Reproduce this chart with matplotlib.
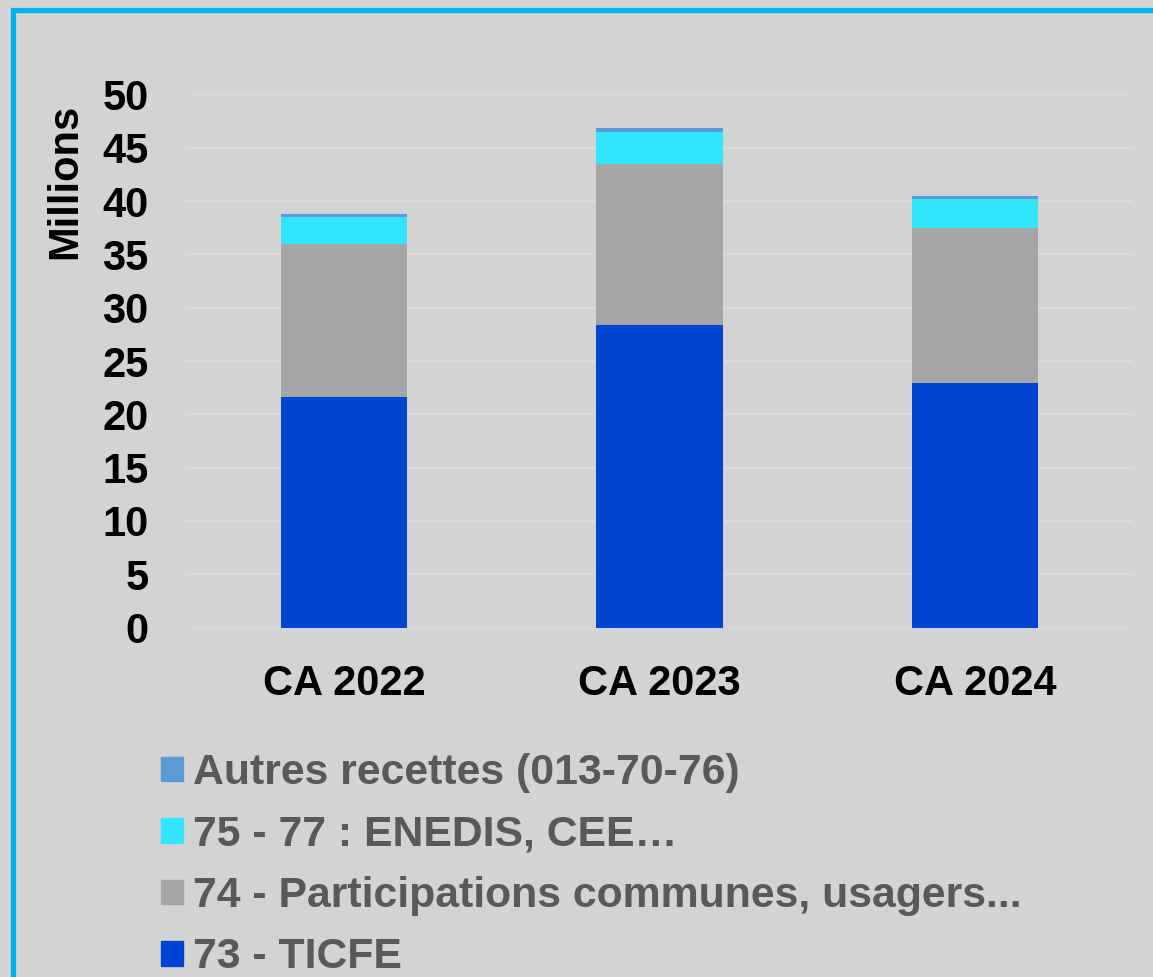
import matplotlib
matplotlib.use('Agg')
import matplotlib.pyplot as plt
import matplotlib.patches as mpatches
import numpy as np

plt.rcParams['font.family'] = ['Liberation Sans', 'DejaVu Sans']
plt.rcParams['font.weight'] = 'bold'

# data (millions)
categories = ['CA 2022', 'CA 2023', 'CA 2024']
ticfe = [21.6, 28.4, 22.95]
participations = [14.4, 15.1, 14.55]
enedis = [2.55, 3.0, 2.7]
autres = [0.25, 0.4, 0.3]

series_labels = ['73 - TICFE', '74 - Participations communes, usagers...',
                 '75 - 77 : ENEDIS, CEE…', 'Autres recettes (013-70-76)']
series_colors = ['#0044d2', '#a5a5a5', '#33e6ff', '#5b9bd5']

bg = '#d3d3d3'
fig = plt.figure(figsize=(11.53, 9.77), dpi=100, facecolor=bg)
ax = fig.add_axes([0.1613, 0.3577, 0.8214, 0.5456], facecolor=bg)

x = np.arange(len(categories))
bottom = np.zeros(len(categories))
for vals, col in zip([ticfe, participations, enedis, autres], series_colors):
    ax.bar(x, vals, 0.4, bottom=bottom, color=col, zorder=3)
    bottom += np.array(vals)

ax.set_xlim(-0.5, 2.5)
ax.set_ylim(0, 50)
ax.set_yticks(range(0, 51, 5))
ax.set_xticks(x)
ax.set_xticklabels(categories)
ax.tick_params(axis='y', length=0, pad=27, labelsize=30)
ax.tick_params(axis='x', length=0, pad=26, labelsize=30)
ax.grid(True, axis='y', color='#dadada', linewidth=1.5, zorder=0)
for s in ax.spines.values():
    s.set_visible(False)
ax.set_ylabel('Millions', fontsize=30, fontweight='bold')
ax.yaxis.set_label_coords(-0.1066, 0.837)

handles = [mpatches.Patch(color=c, label=l) for c, l in zip(series_colors, series_labels)]
handles = handles[::-1]
leg = fig.legend(handles=handles, loc='upper left', bbox_to_anchor=(0.1396, 0.229),
                 frameon=False, fontsize=30.8, handlelength=0.51, handleheight=0.51,
                 handletextpad=0.23, labelspacing=0.5, borderpad=0, borderaxespad=0)
for t in leg.get_texts():
    t.set_color('#595959')
    t.set_fontweight('bold')

# cyan frame, cut off at right and bottom
frame = mpatches.Rectangle((12.5 / 1153, -0.1), 1.2, (977 - 9.5) / 977 + 0.1,
                           transform=fig.transFigure, fill=False,
                           edgecolor='#00b0f0', linewidth=3.8)
fig.patches.append(frame)

plt.savefig('out.png', dpi=100, facecolor=bg)
